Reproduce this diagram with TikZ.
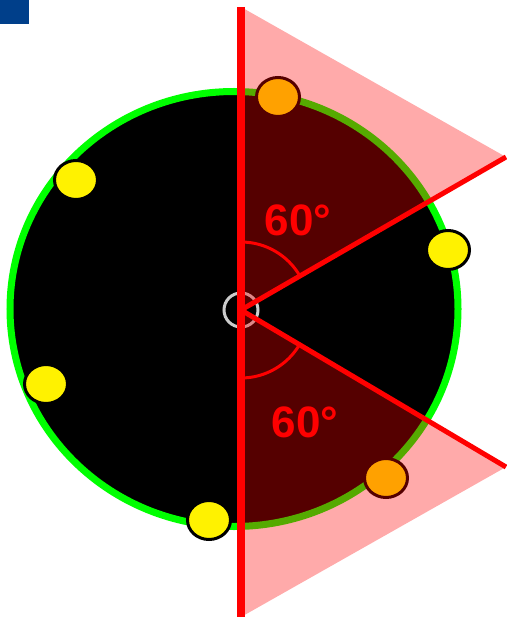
\documentclass[tikz,border=0pt]{standalone}
\usepackage{fontspec}
\newfontfamily\labelfont{Liberation Sans}
\usetikzlibrary{calc}

\definecolor{ringgreen}{HTML}{00FF00}
\definecolor{cornerblue}{HTML}{003F8A}

\begin{document}
\begin{tikzpicture}[x=1pt, y=-1pt,
  disc/.style={fill=black, draw=ringgreen, line width=7pt},
  marker/.style={fill=yellow, draw=black, line width=3pt},
  wedge/.style={fill=red, fill opacity=0.333},
  ray/.style={draw=red, line width=5pt},
  angarc/.style={draw=red, line width=3pt},
  deg/.style={text=red, font=\labelfont\bfseries\fontsize{44}{44}\selectfont}
]
\useasboundingbox (0,0) rectangle (506,617);
\fill[cornerblue] (0,0) rectangle (29,24);

% disc and centre ring
\coordinate (o) at (241,310);
\draw[disc] (234,309) ellipse [x radius=224, y radius=217.5];
\draw[draw=gray!40, line width=3pt] (o) circle [radius=17];

% points on the rim
\foreach \px/\py in {76/180, 448/250, 46/384, 209/520, 278/97, 386/478}
  \draw[marker] (\px,\py) ellipse [x radius=21.5, y radius=19.5];

% axis and wedges
\coordinate (top) at (241,7);
\coordinate (bot) at (241,617);
\coordinate (ua) at (506,157);
\coordinate (la) at (506,467);
\draw[red, line width=8pt] (top) -- (bot);
\fill[wedge] (top) -- (ua) -- (o) -- cycle;
\fill[wedge] (o) -- (la) -- (bot) -- cycle;
\draw[ray] (o) -- (ua);
\draw[ray] (o) -- (la);

% angles
\draw[angarc] ($(o)+(-90:68)$) arc[start angle=-90, end angle=-30, radius=68];
\draw[angarc] ($(o)+(90:68)$) arc[start angle=90, end angle=30, radius=68];
\node[deg] (upper) at (298,220) {60°};
\node[deg] (lower) at (305,422) {60°};
\end{tikzpicture}
\end{document}
